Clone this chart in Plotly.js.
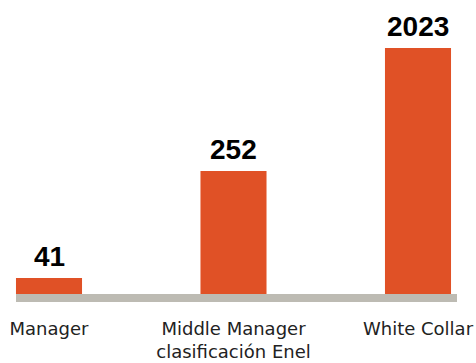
<!DOCTYPE html>
<html>
<head>
<meta charset="utf-8">
<script src="https://cdn.plot.ly/plotly-3.0.1.min.js"></script>
<style>html,body{margin:0;padding:0;background:#fff;}#chart{width:476px;height:363px;}</style>
</head>
<body>
<div id="chart"></div>
<script>
const categories = ["Manager", "Middle Manager<br>clasificación Enel", "White Collar"];
const values = [41, 252, 2023];
const valueLabels = ["41", "252", "2023"];

const barColor = "#e05126";
const baseColor = "#bdbbb3";

const trace = {
  type: "bar",
  x: categories,
  y: values,
  width: 0.358,
  marker: {color: barColor, line: {width: 0}},
  hoverinfo: "none"
};

const annotations = categories.map((c, i) => ({
  x: c, y: Math.log10(values[i]), xref: "x", yref: "y",
  text: valueLabels[i], showarrow: false,
  yanchor: "bottom", xanchor: "center", yshift: 4,
  font: {family: "Liberation Sans, Arial, sans-serif", size: 28, color: "#000", weight: "bold"}
}));

const layout = {
  width: 476, height: 363,
  margin: {l: 0, r: 0, t: 48, b: 69, pad: 0},
  paper_bgcolor: "#fff", plot_bgcolor: "#fff",
  showlegend: false,
  xaxis: {
    type: "category",
    range: [-0.2656, 2.3144],
    showgrid: false, zeroline: false, showline: false,
    ticks: "", ticklabelstandoff: 22,
    tickfont: {family: "DejaVu Sans, sans-serif", size: 18, color: "#222"},
    fixedrange: true
  },
  yaxis: {
    type: "log",
    range: [1.4952, Math.log10(2023)],
    visible: false, showgrid: false, zeroline: false,
    fixedrange: true
  },
  shapes: [{
    type: "rect", xref: "paper", yref: "paper",
    x0: 16/476, x1: 457/476, y0: 0, y1: -8/246,
    fillcolor: baseColor, line: {width: 0}, layer: "above"
  }],
  annotations: annotations
};

Plotly.newPlot("chart", [trace], layout, {displayModeBar: false, staticPlot: true});
</script>
</body>
</html>
